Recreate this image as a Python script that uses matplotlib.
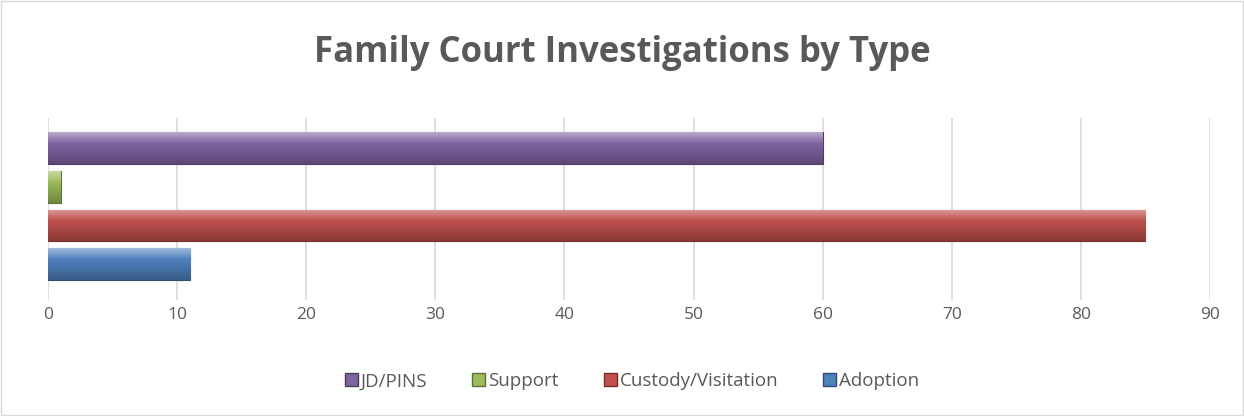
import numpy as np
import matplotlib.pyplot as plt
import matplotlib.colors as mcolors
from matplotlib.patches import Patch

# data
categories = ['JD/PINS', 'Support', 'Custody/Visitation', 'Adoption']
values = [60, 1, 85, 11]
colors = ['#8064A2', '#9BBB59', '#C0504D', '#4F81BD']
xticks = [0, 10, 20, 30, 40, 50, 60, 70, 80, 90]

plt.rcParams['font.family'] = ['Open Sans', 'DejaVu Sans']
txt = '#595959'

fig = plt.figure(figsize=(12.44, 4.16), dpi=100)
ax = fig.add_axes([0.0386, 0.2788, 0.9341, 0.4375])

ypos = [3, 2, 1, 0]
bh = 0.83
for y, v, c in zip(ypos, values, colors):
    rgb = np.array(mcolors.to_rgb(c))
    bar = ax.barh(y, v, height=bh, color=c, edgecolor=tuple(rgb * 0.6), linewidth=0.8, zorder=3)[0]
    # vertical shading, light on top, darker underneath
    t = np.linspace(0, 1, 64)[:, None]
    top = np.clip(rgb + (1 - rgb) * 0.45, 0, 1)
    mid = rgb
    bot = rgb * 0.72
    grad = np.where(t < 0.35, top + (mid - top) * (t / 0.35),
                    mid + (bot - mid) * ((t - 0.35) / 0.65))
    img = ax.imshow(grad[:, None, :].repeat(2, axis=1), aspect='auto',
                    extent=(0, v, y - bh / 2, y + bh / 2), origin='upper', zorder=3.5)
    img.set_clip_path(bar)

ax.set_xlim(0, 90)
ax.set_ylim(-0.935, 3.79)
ax.set_xticks(xticks)
ax.set_yticks([])
ax.grid(axis='x', color='#d9d9d9', linewidth=1.2, zorder=0)
for s in ax.spines.values():
    s.set_visible(False)
ax.tick_params(axis='x', length=0, labelsize=12.5, labelcolor=txt, pad=5)

fig.text(0.5, 0.872, 'Family Court Investigations by Type', ha='center', va='center',
         fontsize=25, fontweight='bold', color=txt)

handles = [Patch(facecolor=c, edgecolor=tuple(np.array(mcolors.to_rgb(c)) * 0.6)) for c in colors]
fig.legend(handles, categories, loc='center', bbox_to_anchor=(0.508, 0.083), ncol=4, frameon=False,
           fontsize=13.5, labelcolor=txt, handlelength=0.7, handleheight=0.7,
           handletextpad=0.15, columnspacing=2.4)

fig.add_artist(plt.Rectangle((0.001, 0.002), 0.998, 0.996, transform=fig.transFigure,
                             fill=False, edgecolor='#d9d9d9', linewidth=1))

fig.savefig('out.png', dpi=100)
